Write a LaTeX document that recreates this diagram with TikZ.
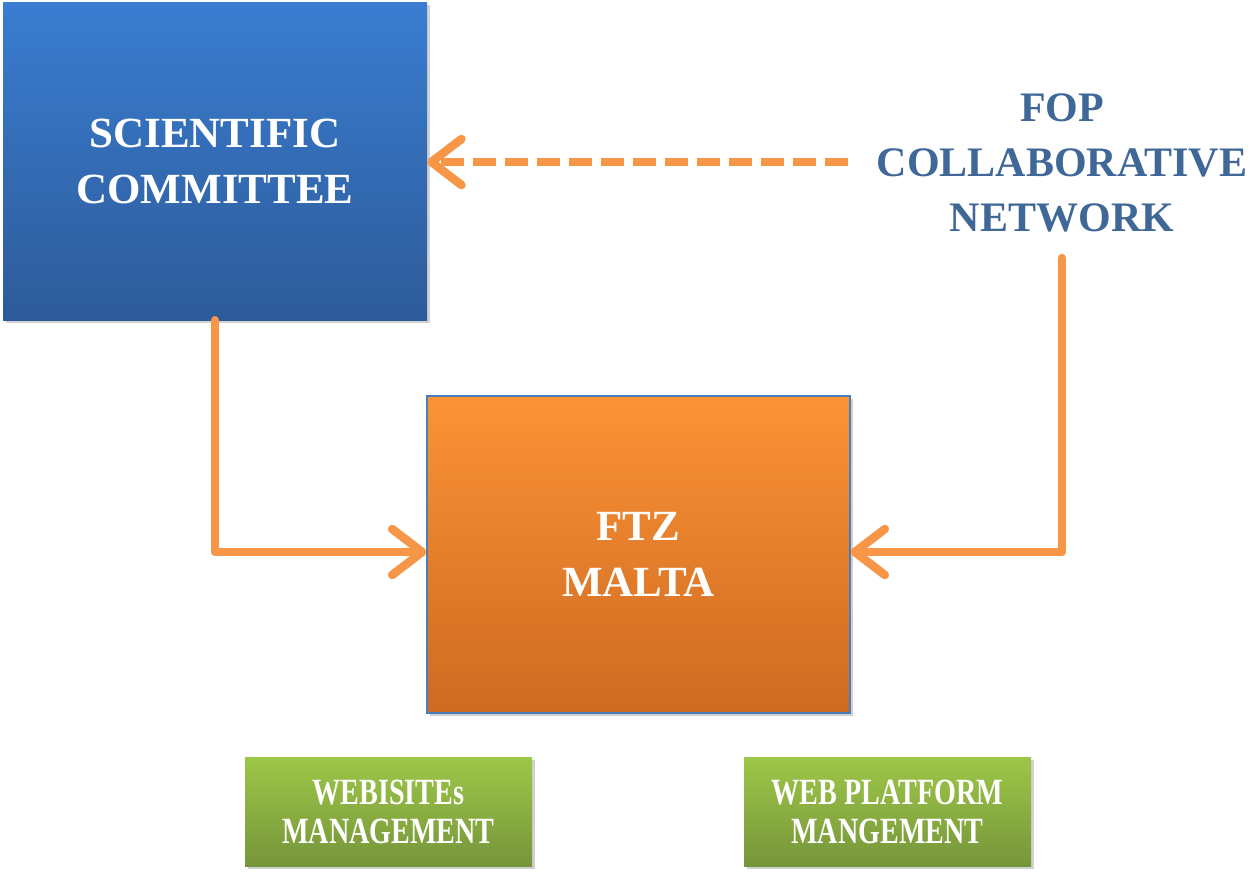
\documentclass[tikz,border=0pt]{standalone}
\usepackage{fontspec}
\setmainfont{Liberation Serif}
\usetikzlibrary{arrows.meta,shadows,shadings}
\definecolor{arrorange}{HTML}{F79646}
\definecolor{fopblue}{HTML}{3F6797}
\definecolor{bluetop}{HTML}{3A7DD1}
\definecolor{bluebot}{HTML}{2D5B99}
\definecolor{orgtop}{HTML}{FB9336}
\definecolor{orgbot}{HTML}{CE6A21}
\definecolor{grntop}{HTML}{9DC748}
\definecolor{grnbot}{HTML}{76953A}
\definecolor{borderblue}{HTML}{4A7EBB}
\tikzset{
  boxshadow/.style={drop shadow={shadow xshift=3pt,shadow yshift=-3pt,opacity=0.3,fill=black!60}},
  bluebox/.style={boxshadow,top color=bluetop,bottom color=bluebot,draw=none,minimum width=424pt,minimum height=318pt,inner sep=0pt,align=center,text=white,font=\bfseries\fontsize{43}{56}\selectfont},
  orangebox/.style={boxshadow,top color=orgtop,bottom color=orgbot,draw=borderblue,line width=1.2pt,minimum width=423pt,minimum height=317pt,inner sep=0pt,align=center,text=white,font=\bfseries\fontsize{43}{56}\selectfont},
  greenbox/.style={boxshadow,top color=grntop,bottom color=grnbot,draw=none,minimum width=287pt,minimum height=109pt,inner sep=0pt,align=center,text=white,font=\bfseries\fontsize{37}{39}\selectfont},
  foptext/.style={align=center,text=fopblue,font=\bfseries\fontsize{42}{55}\selectfont},
  conn/.style={draw=arrorange,line width=8.5pt,line cap=round,line join=round,-{Straight Barb[length=30pt,width=46pt,line cap=round,line join=round]}},
  dashconn/.style={conn,dash pattern=on 23pt off 9pt,line cap=butt}
}
\newcommand{\cond}[1]{\scalebox{0.76}[1]{#1}}
\begin{document}
\begin{tikzpicture}[x=1pt,y=-1pt]
\useasboundingbox (0,0) rectangle (1254,871);
\node[bluebox] (sc) at (215,161) {SCIENTIFIC\\COMMITTEE};
\node[orangebox] (ftz) at (638.5,554.5) {FTZ\\MALTA};
\node[greenbox] (web) at (388.5,811.5) {\cond{WEBISITEs}\\\cond{MANAGEMENT}};
\node[greenbox] (wpm) at (887.5,811.5) {\cond{WEB PLATFORM}\\\cond{MANGEMENT}};
\node[foptext] (fop) at (1062,163) {FOP\\COLLABORATIVE\\NETWORK};
\coordinate (dstart) at (848,162);
\coordinate (lbend) at (215,552);
\coordinate (rtop) at (1062,258);
\coordinate (rbend) at (1062,552);
\draw[dashconn] (dstart) -- (sc.east |- dstart);
\draw[conn] (sc.south -| lbend) -- (lbend) -- (ftz.west |- lbend);
\draw[conn] (rtop) -- (rbend) -- (ftz.east |- rbend);
\end{tikzpicture}
\end{document}
